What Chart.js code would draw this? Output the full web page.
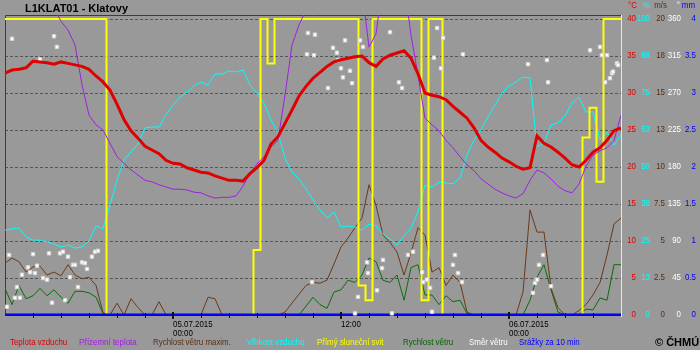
<!DOCTYPE html>
<html>
<head>
<meta charset="utf-8">
<script src="https://cdn.jsdelivr.net/npm/chart.js@4.4.1/dist/chart.umd.min.js"></script>
<style>
  html, body { margin: 0; padding: 0; background: #999999; }
  #wrap { width: 700px; height: 350px; position: relative; }
</style>
</head>
<body>
<div id="wrap"><canvas id="meteo"></canvas></div>
<script>
// hours since 04.07.2015 12:00, 30 min step
const hours = [0, 0.5, 1, 1.5, 2, 2.5, 3, 3.5, 4, 4.5, 5, 5.5, 6, 6.5, 7, 7.5, 8, 8.5, 9, 9.5,
  10, 10.5, 11, 11.5, 12, 12.5, 13, 13.5, 14, 14.5, 15, 15.5, 16, 16.5, 17, 17.5, 18, 18.5, 19, 19.5,
  20, 20.5, 21, 21.5, 22, 22.5, 23, 23.5, 24, 24.5, 25, 25.5, 26, 26.5, 27, 27.5, 28, 28.5, 29, 29.5,
  30, 30.5, 31, 31.5, 32, 32.5, 33, 33.5, 34, 34.5, 35, 35.5, 36, 36.5, 37, 37.5, 38, 38.5, 39, 39.5,
  40, 40.5, 41, 41.5, 42, 42.5, 43, 43.5, 44];

// °C
const airTemp = [32.7, 33.1, 33.2, 33.4, 34.3, 34.2, 34.1, 33.9, 34.2, 34.0, 33.8, 33.6, 33.2, 32.3, 31.5, 30.4, 28.5, 26.4, 24.9, 23.9,
  22.8, 22.3, 21.8, 20.9, 20.5, 20.4, 19.9, 19.6, 19.3, 19.2, 18.8, 18.5, 18.2, 18.2, 18.1, 19.1, 19.9, 20.9, 23.1, 24.1,
  25.9, 27.7, 29.6, 30.9, 32.0, 32.8, 33.6, 34.2, 34.5, 34.7, 34.9, 35.0, 34.1, 33.6, 34.6, 35.1, 35.4, 35.7, 34.7, 32.6,
  30.0, 29.7, 29.5, 29.1, 28.2, 27.4, 26.6, 25.3, 23.6, 22.7, 22.0, 21.2, 20.7, 20.1, 19.7, 19.9, 24.2, 23.2, 22.7, 22.0,
  21.2, 20.3, 20.0, 20.9, 22.0, 22.6, 23.6, 24.9, 25.3];

// °C
const groundTemp = [45, 45, 45, 45, 44, 43, 42, 41.5, 39.7, 38.5, 36.5, 31.1, 27.0, 25.7, 25.0, 23.2, 21.4, 20.5, 19.6, 18.9,
  18.2, 18.0, 17.6, 17.3, 17.0, 17.0, 16.9, 16.6, 16.5, 16.1, 15.8, 15.9, 15.9, 16.1, 17.4, 19.2, 20.4, 21.4, 22.7, 23.6,
  29.7, 36.5, 39.2, 41.2, 43, 45, 46, 46, 46, 46, 45, 44, 36.2, 38, 45, 46, 46, 45, 37.8, 32.4,
  26.6, 25.7, 24.9, 23.6, 22.6, 21.4, 20.3, 19.5, 18.4, 17.7, 17.0, 16.5, 16.1, 15.8, 16.4, 18.2, 19.6, 19.2, 18.4, 17.4,
  16.8, 16.5, 17.7, 20.1, 21.6, 22.2, 22.6, 23.6, 27.0];

// m/s
const windGust = [3.5, 3.85, 3.6, 2.9, 3.25, 3.3, 2.7, 2.9, 2.65, 3.4, 2.7, 2.45, 2.55, 2.0, 0.15,
  0, 0.8, 0, 1.1, 0.5, 0, 0, 0.9, 0, 0, 0, 0, 0, 0, 1.2, 1.1,
  0, 0, 0, 0, 0, 0, 0, 0, 0,
  0.2, 0.8, 1.4, 2.0, 2.2, 2.15, 2.35, 3.45, 4.6, 5.2, 5.9, 6.55, 8.8, 7.4, 5.4, 4.9, 4.25, 2.7, 4.2, 5.9, 5.4, 2.9, 3.2, 2.0, 2.7, 2.2, 0.2,
  0, 0, 0, 0, 0, 0, 0,
  1.55, 7.1, 5.6, 5.6, 1.8, 0.5, 0, 0, 0.3, 0.7, 1.35, 2.2, 4.05, 6.15, 6.55];

// %
const humidity = [28.7, 29.1, 29.4, 26.4, 25.3, 25.3, 24.7, 24.0, 23.0, 23.6, 22.6, 23.0, 25.0, 30.1, 29.1, 37.2, 45.6, 52.4, 55.1, 57.8,
  63.2, 63.5, 63.5, 67.6, 70.9, 73.6, 75.3, 77.4, 78.7, 77.7, 81.4, 81.4, 82.4, 82.1, 82.8, 77.7, 75.0, 71.6, 65.9, 61.5,
  53.0, 48.3, 45.9, 42.6, 38.9, 35.5, 32.8, 34.8, 29.7, 30.1, 29.7, 28.7, 30.7, 30.1, 27.4, 25.7, 23.6, 26.7, 29.4, 34.8,
  43.9, 43.2, 44.9, 44.6, 44.3, 46.3, 54.1, 59.1, 62.5, 66.9, 70.9, 75.0, 77.4, 78.7, 80.4, 80.1, 56.8, 58.1, 64.2, 64.9,
  67.2, 71.6, 73.6, 68.6, 68.6, 59.1, 61.8, 57.4, 60.8];

// min of sunshine per 10 min
const sunshine = [10, 10, 10, 10, 10, 10, 10, 10, 10, 10, 10, 10, 10, 10, 10,
  0, 0, 0, 0, 0, 0, 0, 0, 0, 0, 0, 0, 0, 0, 0, 0, 0, 0, 0, 0, 0,
  2.2, 10, 8.5, 10, 10, 10, 10, 10, 10, 10, 10, 10, 10, 10, 10,
  1.0, 0.5, 10, 10, 10, 10, 10, 10, 10, 0.5, 10, 10,
  0, 0, 0, 0, 0, 0, 0, 0, 0, 0, 0, 0, 0, 0, 0, 0, 0, 0, 0, 0,
  6, 7, 4.5, 10, 10, 10];

// m/s
const windSpeed = [1.8, 0.7, 2.0, 1.1, 1.3, 1.8, 1.3, 1.7, 1.2, 0.8, 1.6, 1.6, 1.5, 1.2, 0.1,
  0, 0, 0, 0, 0, 0, 0, 0, 0, 0, 0, 0, 0, 0, 0, 0, 0, 0, 0, 0, 0, 0, 0, 0, 0, 0, 0, 0,
  0.6, 1.2, 0.7, 0.45, 1.55, 1.7, 2.35, 2.2, 2.7, 3.85, 3.6, 2.35, 2.2, 2.7, 1.0, 3.2, 3.4, 1.35, 1.35, 0.7, 1.3, 0.9, 1.0, 0.1,
  0, 0, 0, 0, 0, 0, 0, 0,
  1.0, 2.55, 3.4, 1.7, 0.2, 0, 0, 0, 0.4, 0.35, 1.15, 1.0, 3.4, 3.4];

// mm per 10 min
const rain = [0, 0, 0, 0, 0, 0, 0, 0, 0, 0, 0, 0, 0, 0, 0, 0, 0, 0, 0, 0,
  0, 0, 0, 0, 0, 0, 0, 0, 0, 0, 0, 0, 0, 0, 0, 0, 0, 0, 0, 0,
  0, 0, 0, 0, 0, 0, 0, 0, 0, 0, 0, 0, 0, 0, 0, 0, 0, 0, 0, 0,
  0, 0, 0, 0, 0, 0, 0, 0, 0, 0, 0, 0, 0, 0, 0, 0, 0, 0, 0, 0,
  0, 0, 0, 0, 0, 0, 0, 0, 0];

// wind direction readings (hours, degrees)
const dirHours = [0.14, 0.29, 0.5, 0.71, 0.86, 1.07, 1.21, 1.64, 1.79, 2.0, 2.14, 2.29, 2.5, 2.71, 3.0, 3.14, 3.36, 3.5, 3.71, 3.93,
  4.14, 4.29, 4.5, 4.64, 4.86, 5.0, 5.21, 5.5, 5.71, 5.86, 6.21, 6.43, 6.64,
  21.57, 21.64, 21.93, 22.07, 22.14, 23.07, 23.43, 23.71, 23.79, 24.0, 24.14, 24.29, 24.64, 24.79, 25.0, 25.21, 25.36, 25.57, 25.86, 25.93,
  26.57, 26.93, 27.0, 27.5, 27.64, 28.14, 28.36, 28.79, 29.14, 29.79, 29.86, 30.14, 30.36, 30.5, 30.64, 30.86, 31.14, 31.29,
  32.0, 32.14, 32.36, 32.64, 32.71, 37.36, 37.71, 37.86, 38.0, 38.14, 38.43, 38.71, 38.79, 39.0,
  41.79, 42.5, 42.64, 42.86, 43.0, 43.21, 43.36, 43.43, 43.71, 43.79];
const dirDegrees = [10, 73, 336, 21, 34, 21, 49, 58, 52, 74, 51, 60, 311, 45, 43, 75, 15, 339, 326, 75,
  77, 18, 71, 46, 61, 61, 34, 64, 63, 56, 71, 77, 78,
  317, 343, 40, 316, 341, 276, 325, 319, 310, 300, 289, 334, 297, 282, 2, 22, 334, 326, 64, 51,
  30, 57, 67, 344, 2, 283, 276, 73, 77, 52, 40, 43, 33, 4, 313, 349, 300, 337,
  61, 73, 51, 40, 317, 305, 27, 39, 43, 61, 73, 310, 283, 35,
  322, 326, 316, 283, 316, 288, 294, 296, 306, 304];

// right axis tick labels, one column per unit
const tempTicks = ["0", "5", "10", "15", "20", "25", "30", "35", "40"];
const humTicks = ["0", "13", "25", "38", "50", "63", "75", "88", "100"];
const windTicks = ["0", "2.5", "5", "7.5", "10", "13", "15", "18", "20"];
const dirTicks = ["0", "45", "90", "135", "180", "225", "270", "315", "360"];
const rainTicks = ["0", "0.5", "1", "1.5", "2", "2.5", "3", "3.5", "4"];
const tickSteps = [0, 5, 10, 15, 20, 25, 30, 35, 40];

const xMajor = [12, 24, 36];
const xMinor = [2, 4, 6, 8, 10, 14, 16, 18, 20, 22, 26, 28, 30, 32, 34, 38, 40, 42];

const legendItems = [
  ["Teplota vzduchu", "#e00000", 10],
  ["Přízemní teplota", "#a020e0", 79],
  ["Rychlost větru maxim.", "#5a2e12", 153],
  ["Vlhkost vzduchu", "#00ffff", 247],
  ["Přímý sluneční svit", "#ffff00", 317],
  ["Rychlost větru", "#006400", 403],
  ["Směr větru", "#ffffff", 469],
  ["Srážky za 10 min", "#0000ff", 519],
];

const SMALL = "9px 'Liberation Sans', Arial, sans-serif";
const SX = 0.88;

function pts(values) {
  return hours.map((h, i) => ({ x: h, y: values[i] }));
}

function text(ctx, str, x, y, color, font, align, sx) {
  ctx.save();
  ctx.font = font;
  ctx.fillStyle = color;
  ctx.textAlign = align;
  ctx.textBaseline = "middle";
  ctx.translate(x, y);
  ctx.scale(sx, 1);
  ctx.fillText(str, 0, 0);
  ctx.restore();
}

// scale ranges: frame is 301 px tall, 0..40 °C spans 296 px
const lo = -1 / 7.4, hi = 40 + 4 / 7.4;
function range(f) { return { min: lo * f, max: hi * f, display: false }; }

const decor = {
  id: "decor",
  beforeDraw(chart) {
    const ctx = chart.ctx;
    ctx.save();
    ctx.fillStyle = "#999999";
    ctx.fillRect(0, 0, chart.width, chart.height);
    ctx.restore();
  },
  beforeDatasetsDraw(chart) {
    const { ctx, chartArea: a, scales } = chart;
    ctx.save();
    ctx.strokeStyle = "#555555";
    ctx.lineWidth = 1;
    ctx.setLineDash([3, 2]);
    tickSteps.slice(1).forEach(v => {
      const y = Math.round(scales.yT.getPixelForValue(v)) + 0.5;
      ctx.beginPath();
      ctx.moveTo(a.left, y);
      ctx.lineTo(a.right, y);
      ctx.stroke();
    });
    ctx.setLineDash([]);
    // sunken frame
    ctx.strokeStyle = "#3c3c3c";
    ctx.beginPath();
    ctx.moveTo(a.left + 0.5, a.bottom);
    ctx.lineTo(a.left + 0.5, a.top + 0.5);
    ctx.lineTo(a.right, a.top + 0.5);
    ctx.stroke();
    ctx.strokeStyle = "#e8e8e8";
    ctx.beginPath();
    ctx.moveTo(a.right + 0.5, a.top);
    ctx.lineTo(a.right + 0.5, a.bottom + 1);
    ctx.stroke();
    ctx.restore();
  },
  afterDatasetsDraw(chart) {
    const { ctx, chartArea: a, scales } = chart;
    const x = scales.x;
    ctx.save();
    ctx.fillStyle = "#111111";
    xMinor.forEach(h => {
      const px = Math.round(x.getPixelForValue(h));
      ctx.fillRect(px, a.bottom - 3, 1, 5);
    });
    xMajor.forEach(h => {
      const px = Math.round(x.getPixelForValue(h));
      ctx.fillRect(px - 1, a.bottom - 4, 2, 7);
    });
    ctx.restore();

    const d1 = x.getPixelForValue(12), d2 = x.getPixelForValue(36), noon = x.getPixelForValue(24);
    text(ctx, "05.07.2015", d1, 325, "#000", SMALL, "left", SX);
    text(ctx, "00:00", d1, 334, "#000", SMALL, "left", SX);
    text(ctx, "12:00", noon, 325, "#000", SMALL, "left", SX);
    text(ctx, "06.07.2015", d2, 325, "#000", SMALL, "left", SX);
    text(ctx, "00:00", d2, 334, "#000", SMALL, "left", SX);

    // right axis columns
    const cols = [
      [tempTicks, "#e00000", 636],
      [humTicks, "#00ffff", 650],
      [windTicks, "#5a2e12", 665],
      [dirTicks, "#ffffff", 681],
      [rainTicks, "#0000ff", 696],
    ];
    cols.forEach(([labels, color, right]) => {
      labels.forEach((lab, i) => {
        const y = scales.yT.getPixelForValue(tickSteps[i]);
        text(ctx, lab, right, y, color, SMALL, "right", SX);
      });
    });
    text(ctx, "°C", 637, 6, "#e00000", SMALL, "right", SX);
    text(ctx, "%", 650, 6, "#00ffff", SMALL, "right", SX);
    text(ctx, "m/s", 667, 6, "#5a2e12", SMALL, "right", SX);
    text(ctx, "°", 680, 6, "#ffffff", SMALL, "right", SX);
    text(ctx, "mm", 695, 6, "#0000ff", SMALL, "right", SX);

    legendItems.forEach(([label, color, left]) => {
      text(ctx, label, left, 343, color, SMALL, "left", SX);
    });
    text(ctx, "L1KLAT01 - Klatovy", 25, 9, "#000", "bold 11px 'Liberation Sans', Arial, sans-serif", "left", 1);
    text(ctx, "© ČHMÚ", 655, 343, "#000", "bold 11px 'Liberation Sans', Arial, sans-serif", "left", 1);
  },
};

const line = (data, color, width, axis, extra) => Object.assign({
  data, borderColor: color, borderWidth: width, yAxisID: axis,
  pointRadius: 0, tension: 0, fill: false,
}, extra || {});

new Chart(document.getElementById("meteo"), {
  type: "line",
  data: {
    datasets: [
      line(pts(airTemp), "#e00000", 3, "yT"),
      {
        data: dirHours.map((h, i) => ({ x: h, y: dirDegrees[i] })),
        yAxisID: "yD", showLine: false, pointStyle: "rect", pointRadius: 2.4,
        backgroundColor: "#ffffff", borderColor: "#d4d4d4", borderWidth: 1,
      },
      line(pts(rain), "#0000ff", 3, "yR"),
      line(pts(groundTemp), "#a020e0", 1, "yT"),
      line(pts(sunshine), "#ffff00", 2, "yS", { stepped: "middle" }),
      line(pts(humidity), "#00ffff", 1, "yH"),
      line(pts(windGust), "#6b3a18", 1, "yW"),
      line(pts(windSpeed), "#0a6e0a", 1, "yW"),
    ],
  },
  options: {
    responsive: true,
    maintainAspectRatio: false,
    animation: false,
    events: [],
    layout: { padding: { left: 5, top: 15, right: 79, bottom: 34 } },
    plugins: { legend: { display: false }, tooltip: { enabled: false } },
    scales: {
      x: { type: "linear", min: 0, max: 44, display: false },
      yT: range(1),
      yH: range(2.5),
      yW: range(0.5),
      yD: range(9),
      yR: range(0.1),
      yS: range(0.25),
    },
  },
  plugins: [decor],
});
</script>
</body>
</html>
